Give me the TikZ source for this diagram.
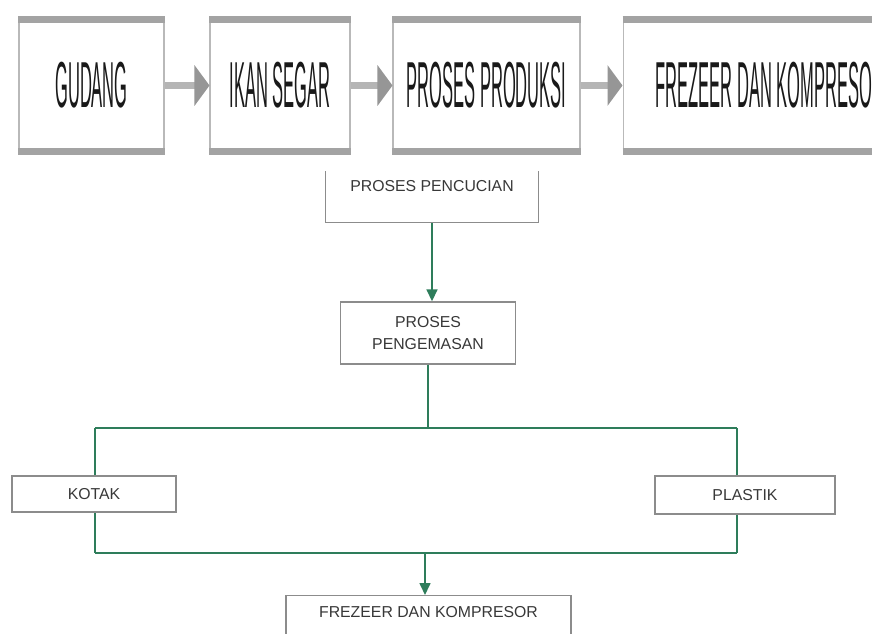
\documentclass[tikz,border=0pt]{standalone}
\usepackage{fontspec}
\setmainfont{Liberation Sans}
\usepackage{graphicx}
\usetikzlibrary{
  arrows.meta,
  positioning,
  backgrounds
}

\definecolor{flowgreen}{HTML}{2E7D5B}
\definecolor{boxgray}{HTML}{8C8C8C}
\newcommand{\tallcaps}[1]{\scalebox{0.94}[3.7]{#1}}

\begin{document}
\begin{tikzpicture}[
  x=0.02cm, y=-0.02cm,
  line join=miter,
  headbox/.style={
    draw=gray!55,
    line width=0.6pt,
    fill=white,
    minimum height=2.62cm,
    inner sep=0pt,
    font=\fontsize{10}{12}\selectfont,
    text=black!90
  },
  headbar/.style={
    line width=3.6pt,
    draw=gray!72
  },
  headflow/.style={
    -{Triangle[length=3mm,width=8mm,color=gray!82]},
    line width=4pt,
    draw=gray!58
  },
  stepbox/.style={
    draw=boxgray,
    line width=0.8pt,
    fill=white,
    align=center,
    font=\fontsize{9}{13}\selectfont,
    text=black!78
  },
  topbox/.style={
    stepbox,
    anchor=north,
    text height=2.3mm,
    text depth=4.2mm,
    inner ysep=2mm
  },
  flow/.style={
    -{Triangle[length=2.4mm,width=2.2mm]},
    line width=0.9pt,
    draw=flowgreen
  },
  link/.style={
    line width=0.9pt,
    draw=flowgreen
  }
]

\clip (0,0) rectangle (872,633);

% Lower chart
\node[topbox, minimum width=4.26cm] (wash) at (432, 169.4) {PROSES PENCUCIAN};
\node[stepbox, minimum width=3.5cm, minimum height=1.24cm] (pack) at (428, 333) {PROSES\\PENGEMASAN};
\node[stepbox, minimum width=3.28cm, minimum height=0.72cm] (kotak) at (94, 494) {KOTAK};
\node[stepbox, minimum width=3.6cm, minimum height=0.76cm] (plastik) at (745, 495) {PLASTIK};
\node[topbox, minimum width=5.7cm] (frzbox) at (428.5, 595) {FREZEER DAN KOMPRESOR};

\coordinate (splitL) at (95, 428);
\coordinate (splitR) at (737, 428);
\coordinate (joinL)  at (95, 553);
\coordinate (joinR)  at (737, 553);
\coordinate (joinM)  at (425, 553);

\draw[flow] (wash.south) -- (wash.south |- pack.north);
\draw[link] (pack.south) -- (pack.south |- splitL);
\draw[link] (splitL) -- (splitR);
\begin{scope}[on background layer]
  \draw[link] (splitL) -- (joinL);
  \draw[link] (splitR) -- (joinR);
\end{scope}
\draw[link] (joinL) -- (joinR);
\draw[flow] (joinM) -- (joinM |- frzbox.north);

% Top row
\fill[white] (0,0) rectangle (872,171);

\node[headbox, minimum width=2.9cm]  (gudang)   at (91.5, 85.5) {\tallcaps{GUDANG}};
\node[headbox, minimum width=2.8cm]  (ikan)     at (280, 85.5)  {\tallcaps{IKAN SEGAR}};
\node[headbox, minimum width=3.74cm] (produksi) at (486.5, 85.5) {\tallcaps{PROSES PRODUKSI}};
\node[headbox, minimum width=5.88cm] (freezer)  at (770, 85.5)  {\tallcaps{FREZEER DAN KOMPRESOR}};

\draw[headbar] (gudang.north west) -- (gudang.north east);
\draw[headbar] (gudang.south west) -- (gudang.south east);
\draw[headbar] (ikan.north west) -- (ikan.north east);
\draw[headbar] (ikan.south west) -- (ikan.south east);
\draw[headbar] (produksi.north west) -- (produksi.north east);
\draw[headbar] (produksi.south west) -- (produksi.south east);
\draw[headbar] (freezer.north west) -- (freezer.north east);
\draw[headbar] (freezer.south west) -- (freezer.south east);

\draw[headflow] (gudang.east) -- (ikan.west);
\draw[headflow] (ikan.east) -- (produksi.west);
\draw[headflow] (produksi.east) -- (freezer.west);

\end{tikzpicture}
\end{document}
